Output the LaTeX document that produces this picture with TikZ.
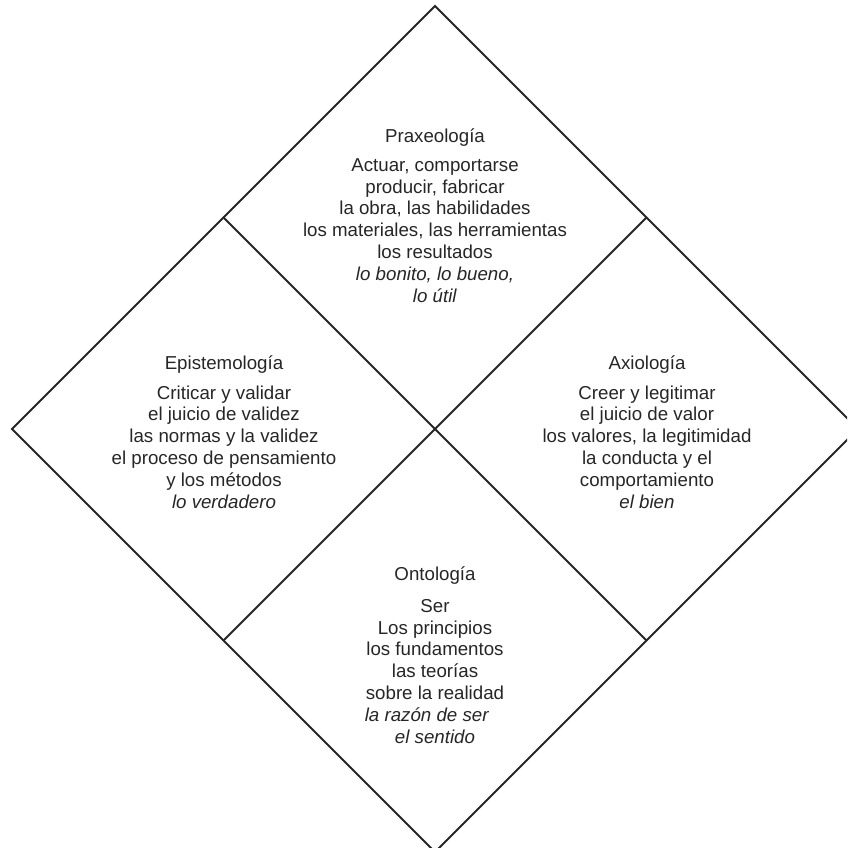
\documentclass[tikz,border=0pt]{standalone}
\usepackage{fontspec}
\setmainfont{Liberation Sans}
\usetikzlibrary{calc}
\begin{document}
\begin{tikzpicture}[x=1pt,y=-1pt,
  edge/.style={line width=1.8pt,draw=black!85,line cap=round,line join=miter},
  quad/.style={align=center,inner sep=0pt,anchor=base,text=black!85,
    font=\fontsize{18.7}{21.8}\selectfont}]
\useasboundingbox (0,0) rectangle (847,848);
\clip (0,0) rectangle (847,848);
\coordinate (T) at (435,6);
\coordinate (R) at (858,429);
\coordinate (B) at (435,852);
\coordinate (L) at (12,429);
\coordinate (TL) at ($(T)!0.5!(L)$);
\coordinate (TR) at ($(T)!0.5!(R)$);
\coordinate (BL) at ($(B)!0.5!(L)$);
\coordinate (BR) at ($(B)!0.5!(R)$);
\draw[edge] (T) -- (R) -- (B) -- (L) -- cycle;
\draw[edge] (TL) -- (BR);
\draw[edge] (TR) -- (BL);
\node[quad] (prax) at (435,302) {Praxeología\\[7pt]
Actuar, comportarse\\
producir, fabricar\\
la obra, las habilidades\\
los materiales, las herramientas\\
los resultados\\
\textit{lo bonito, lo bueno,}\\
\textit{lo útil}};
\node[quad] (epis) at (224,508) {Epistemología\\[8pt]
Criticar y validar\\
el juicio de validez\\
las normas y la validez\\
el proceso de pensamiento\\
y los métodos\\
\textit{lo verdadero}};
\node[quad] (axio) at (647,508) {Axiología\\[8pt]
Creer y legitimar\\
el juicio de valor\\
los valores, la legitimidad\\
la conducta y el\\
comportamiento\\
\textit{el bien}};
\node[quad] (onto) at (435,743) {Ontología\\[10pt]
Ser\\
Los principios\\
los fundamentos\\
las teorías\\
sobre la realidad\\
\textit{la razón de ser}\hspace*{16pt}\mbox{}\\
\textit{el sentido}};
\end{tikzpicture}
\end{document}
